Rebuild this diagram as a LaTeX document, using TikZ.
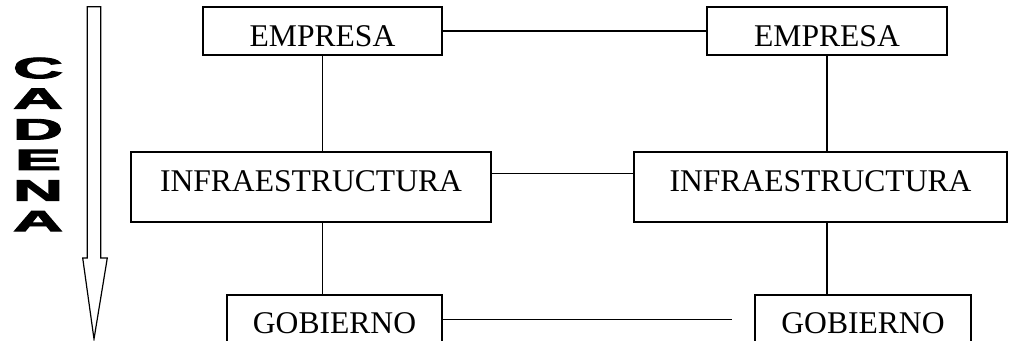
\documentclass[tikz,border=0pt]{standalone}
\usepackage{fontspec}
\setmainfont{Liberation Serif}
\newfontfamily\cadenafont{Liberation Sans}[BoldFeatures={FakeBold=3}]
\usetikzlibrary{calc}

\begin{document}
\begin{tikzpicture}[x=0.75pt, y=-0.75pt,
    caja/.style={rectangle, draw, line width=1.3pt, inner sep=0pt,
      font=\fontsize{23.7}{28}\selectfont, text height=15.7pt, text depth=0pt},
    letra/.style={inner sep=0pt, font=\cadenafont\bfseries\fontsize{22}{22}\selectfont},
    linea/.style={line width=1pt}]

  \clip (0,0) rectangle (1010,341);

  % cajas
  \node[caja, minimum width=179.25pt, minimum height=36pt] (E1) at (322.5,31) {\raisebox{-4.1pt}{EMPRESA}};
  \node[caja, minimum width=180pt, minimum height=36pt] (E2) at (827,31) {\raisebox{-4.1pt}{EMPRESA}};
  \node[caja, minimum width=270pt, minimum height=52.5pt] (I1) at (311,187) {\raisebox{4.5pt}{INFRAESTRUCTURA}};
  \node[caja, minimum width=279.75pt, minimum height=52.5pt] (I2) at (820.5,187) {\raisebox{4.5pt}{INFRAESTRUCTURA}};
  \node[caja, minimum width=161.25pt, minimum height=42.75pt] (G1) at (334.5,323.5) {GOBIERNO};
  \node[caja, minimum width=162pt, minimum height=42.75pt] (G2) at (863,323.5) {GOBIERNO};
  \coordinate (gfin) at (732,319.3);

  % lineas
  \draw[linea] (E1.east) -- (E2.west);
  \draw[linea] (E1.south) -- (E1.south |- I1.north);
  \draw[linea] (E2.south) -- (E2.south |- I2.north);
  \draw[linea] ([yshift=10.3pt]I1.east) -- ([yshift=10.3pt]I2.west);
  \draw[linea] (E1.south |- I1.south) -- (E1.south |- G1.north);
  \draw[linea] (E2.south |- I2.south) -- (E2.south |- G2.north);
  \draw[linea] (G1.east |- gfin) -- (gfin);

  % flecha
  \draw[line width=0.9pt, fill=white] (87.3,6.7) -- (100.7,6.7) -- (100.7,258) -- (107.3,258)
    -- (94,339) -- (82.7,258) -- (87.3,258) -- cycle;
  \foreach \l [count=\i] in {C,A,D,E,N,A}
    \node[letra] (l\i) at (38,37.5+30.6*\i) {\scalebox{2.35}[1]{\l}};
\end{tikzpicture}
\end{document}
